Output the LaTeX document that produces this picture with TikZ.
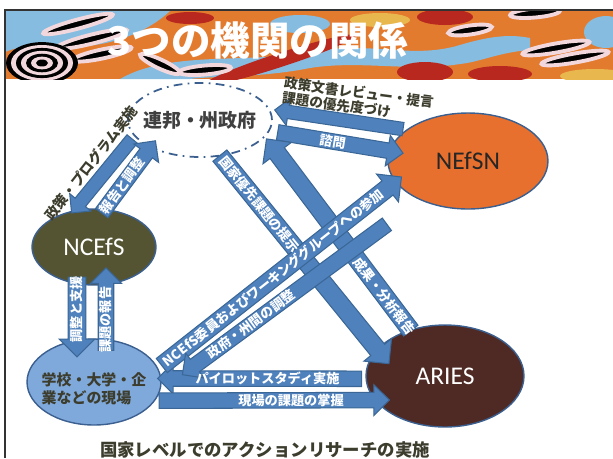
\documentclass[tikz,border=0pt]{standalone}
\usepackage{fontspec}
\usetikzlibrary{shapes.geometric,shapes.arrows,calc}
\newfontfamily\jp{Noto Sans CJK JP}
\newfontfamily\calfont{Carlito}

\definecolor{arrowfill}{HTML}{4F81BD}
\definecolor{arrowedge}{HTML}{3A6796}
\definecolor{shapeedge}{HTML}{3B5F8F}
\definecolor{darktext}{HTML}{3D3D2E}
\definecolor{ncefsfill}{HTML}{545432}
\definecolor{nefsnfill}{HTML}{E8702E}
\definecolor{ariesfill}{HTML}{4F2A25}
\definecolor{schoolfill}{HTML}{7FA9DB}
\definecolor{bnorange}{HTML}{E37B2F}
\definecolor{bnblue}{HTML}{86BCE0}
\definecolor{bnred}{HTML}{B8281F}
\definecolor{bnyellow}{HTML}{E8B84E}
\definecolor{bnpale}{HTML}{F2D8DC}

\tikzset{
  agency/.style={ellipse, draw=shapeedge, line width=0.8pt,
    font=\calfont\fontsize{14.5}{16}\selectfont},
  barrow/.style={single arrow, draw=arrowedge, fill=arrowfill, line width=0.6pt,
    inner xsep=0pt, single arrow tip angle=90},
  narrowarrow/.style={barrow, inner ysep=3.5pt, single arrow head extend=4pt},
  midarrow/.style={barrow, inner ysep=4.1pt, single arrow head extend=4.4pt},
  widearrow/.style={barrow, inner ysep=4.8pt, single arrow head extend=5pt},
  atext/.style={text=white, font=\jp\bfseries\fontsize{7.5}{8}\selectfont,
    inner sep=0pt, sloped},
  dtext/.style={text=darktext, font=\jp\bfseries\fontsize{8}{9}\selectfont, inner sep=0pt},
  stripe/.style={draw=bnpale, fill=black, line width=2.2pt},
}

% block arrow from #2 to #3
\newcommand\blockarrow[3][midarrow]{%
  \path let \p1=($(#3)-(#2)$), \n1={atan2(\y1,\x1)}, \n2={veclen(\x1,\y1)} in
    node[#1, rotate=\n1, minimum height=\n2] at ($(#2)!.5!(#3)$) {};}

\begin{document}
\begin{tikzpicture}[x=0.02cm, y=-0.02cm]
\useasboundingbox (0,0) rectangle (613,458);
\clip (0,0) rectangle (613,458);

% banner
\begin{scope}
  \clip (5,11) rectangle (613,79);
  \fill[bnorange] (5,11) rectangle (613,79);
  \fill[bnblue] (5,11) -- (170,11) .. controls (150,30) and (110,50) .. (60,46)
    .. controls (30,44) and (15,48) .. (5,52) -- cycle;
  \fill[bnblue] (120,79) .. controls (170,50) and (250,64) .. (310,52)
    .. controls (370,40) and (410,60) .. (460,45) .. controls (490,36) and (510,34) .. (530,38)
    -- (530,50) .. controls (500,52) and (480,62) .. (460,64)
    .. controls (410,72) and (360,60) .. (310,68) .. controls (260,78) and (210,76) .. (190,79) -- cycle;
  \fill[bnblue] (300,24) ellipse [x radius=30, y radius=9];
  \fill[bnblue] (606,32) ellipse [x radius=22, y radius=16];
  \fill[bnred, rotate around={18:(280,60)}] (280,60) ellipse [x radius=80, y radius=7];
  \fill[bnred] (445,17) ellipse [x radius=28, y radius=8];
  \fill[bnred] (425,72) ellipse [x radius=28, y radius=10];
  \fill[bnred] (500,74) ellipse [x radius=32, y radius=8];
  \fill[bnred] (190,18) ellipse [x radius=24, y radius=6];
  \fill[bnyellow] (380,20) ellipse [x radius=30, y radius=7];
  \fill[bnyellow] (595,76) ellipse [x radius=35, y radius=7];
  \foreach \cx/\cy/\rx/\ang in {78/24/36/15, 92/39/36/14, 102/54/30/12, 160/64/22/-25,
      205/70/26/5, 556/48/34/10, 575/58/34/10, 535/13/25/5, 470/30/22/8}
    \filldraw[stripe, rotate around={\ang:(\cx,\cy)}]
      (\cx,\cy) ellipse [x radius=\rx, y radius=4.5];
  \foreach \r/\c in {36/black, 31/bnpale, 26/black, 21/bnpale, 16/black, 11/bnpale, 6/black}
    \fill[\c] (42,63) ellipse [x radius=\r, y radius=0.58*\r];
\end{scope}
\draw[black!80, line width=1.2pt] (5,458) -- (5,10) -- (613,10);
\node[text=white, font=\jp\bfseries\fontsize{22.5}{24}\selectfont] (title) at (258,40) {3つの機関の関係};

% the five bodies
\node[ellipse, draw=shapeedge, line width=1pt, dash pattern=on 5pt off 3pt on 1pt off 3pt,
  minimum width=2.88cm, minimum height=1.48cm] (gov) at (200,120) {};
\node[text=black!75, font=\jp\bfseries\fontsize{10.8}{12}\selectfont] (govtext) at (gov) {連邦・州政府};
\node[agency, fill=ncefsfill, text=white, minimum width=2.48cm, minimum height=1.52cm] (ncefs) at (94,247) {NCEfS};
\node[agency, fill=nefsnfill, text=black!85, minimum width=3.2cm, minimum height=1.92cm] (nefsn) at (468,161) {NEfSN};
\node[agency, fill=ariesfill, text=white, minimum width=3.16cm, minimum height=2.04cm] (aries) at (445,376) {ARIES};
\node[agency, fill=schoolfill, minimum width=2.68cm, minimum height=1.72cm] (school) at (94,382) {};
\node[text=darktext, align=left, font=\jp\bfseries\fontsize{8.5}{10.2}\selectfont] (schooltext)
  at ([yshift=-4]school) {学校・大学・企\\業などの現場};

% arrow ends
\coordinate (polT) at (gov.194);
\coordinate (polH) at (ncefs.119);
\coordinate (repT) at ($(ncefs.80)!.2!(ncefs)$);
\coordinate (repH) at ($(gov.207)!.1!(gov)$);
\coordinate (advT) at (nefsn.153);
\coordinate (advH) at ($(gov.7)!-.1!(gov)$);
\coordinate (conT) at ($(gov.-9)!-.06!(gov)$);
\coordinate (conH) at ($(nefsn.173)!.13!(nefsn)$);
\coordinate (priT) at ($(gov.-62)!.12!(gov)$);
\coordinate (priH) at ($(aries.165)!.2!(aries)$);
\coordinate (resT) at ($(aries.127)!.1!(aries)$);
\coordinate (resH) at ($(gov.-18)!-.12!(gov)$);
\coordinate (wgT) at (school.12);
\coordinate (wgH) at ($(nefsn.195)!.05!(nefsn)$);
\coordinate (coT) at (390,222);
\coordinate (coH) at ($(school.6)!-.37!(school)$);
\coordinate (pilT) at (aries.182);
\coordinate (pilH) at (school.3);
\coordinate (fldT) at (school.-17);
\coordinate (fldH) at ($(aries.202)!.12!(aries)$);
\coordinate (supT) at ($(ncefs.south)+(-17,-13)$);
\coordinate (supH) at ($(school.north)+(-17,14)$);
\coordinate (issT) at ($(school.north)+(12,16)$);
\coordinate (issH) at ($(ncefs.south)+(12,-14)$);

% arrows
\blockarrow[narrowarrow]{polT}{polH}
\blockarrow{repT}{repH}
\blockarrow[narrowarrow]{advT}{advH}
\blockarrow{conT}{conH}
\blockarrow[widearrow]{priT}{priH}
\blockarrow[widearrow]{resT}{resH}
\blockarrow[widearrow]{supT}{supH}
\blockarrow{issT}{issH}
\blockarrow{pilT}{pilH}
\blockarrow{fldT}{fldH}
\blockarrow[widearrow]{wgT}{wgH}
\blockarrow{coT}{coH}

% texts on the arrows
\path (repT) -- (repH) node[atext, pos=.42] {報告と調整};
\path (conT) -- (conH) node[atext, pos=.47] {諮問};
\path (priT) -- (priH) node[atext, pos=.25] {国家優先課題の提示};
\path (resT) -- (resH) node[atext, pos=.2] {成果・分析報告};
\path (wgT) -- (wgH) node[atext, pos=.48] {NCEfS委員およびワーキンググループへの参加};
\path (coT) -- (coH) node[atext, pos=.68] {政府・州間の調整};
\path (pilT) -- (pilH) node[atext, pos=.48] {パイロットスタディ実施};
\path (fldT) -- (fldH) node[atext, pos=.59] {現場の課題の掌握};
\path (supH) -- (supT) node[atext, pos=.54] {調整と支援};
\path (issT) -- (issH) node[atext, pos=.42] {課題の報告};

% texts beside the arrows
\node[dtext, rotate=52] (polL) at (91,163) {政策・プログラム実施};
\node[dtext, rotate=-7.5, align=left, font=\jp\bfseries\fontsize{7.8}{8.6}\selectfont]
  (advL) at (358,100) {政策文書レビュー・提言\\課題の優先度づけ};

\node[text=darktext, font=\jp\bfseries\fontsize{9.9}{11}\selectfont] (caption) at (265,450)
  {国家レベルでのアクションリサーチの実施};
\end{tikzpicture}
\end{document}
